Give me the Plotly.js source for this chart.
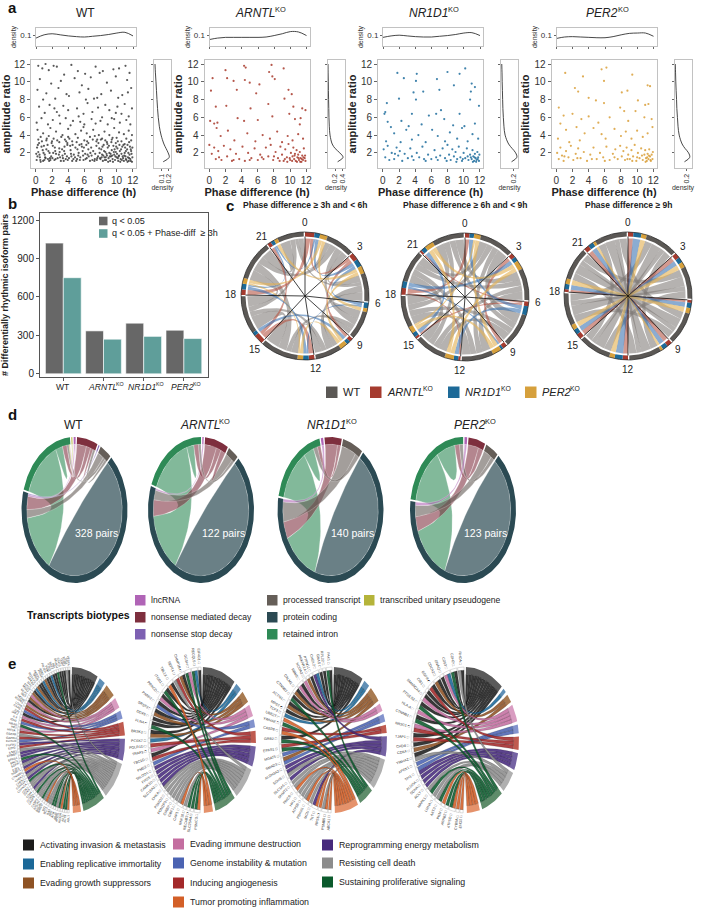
<!DOCTYPE html>
<html><head><meta charset="utf-8">
<script src="https://cdn.plot.ly/plotly-3.0.1.min.js"></script>
<style>body{margin:0;background:#fff}#chart{width:701px;height:910px}</style>
</head><body><div id="chart"></div>
<script>
// ================= DATA =================
const genoNames=['WT','ARNTL','NR1D1','PER2'];
const koSuffix='KO';
// panel a: phase difference (h), amplitude ratio pairs
const wtPts=[0.3,11.8,0.8,11.5,1.2,12,1.6,11.3,2.2,11.8,2.6,11.7,3.5,10.8,4.4,11.9,5.2,11.2,6.1,10.9,7.4,11.7,7.9,11,8.3,11.2,9.6,11.4,10.3,11.5,11.1,11.8,11.6,11,0.5,10.3,1.9,9.8,3.1,10.1,4.8,10.4,5.7,9.6,6.8,10.5,8.8,9.9,9.9,10.6,11.3,10.2,0.2,9.1,1.3,8.7,2.8,9.3,4.1,8.4,5.4,8.8,6.5,9.2,7.6,8.2,8.1,8.6,9.3,9,10.7,8.5,11.8,9.3,0.9,8,2.4,8.1,3.8,8.6,6.2,8,7.2,8.1,10.2,8.2,11.4,8.8,
0.4,7.2,1.1,6.5,1.7,7.4,2.3,7,2.9,6.2,3.4,7.3,4,6.8,4.6,5.6,5.1,7,5.9,6.4,6.4,7.6,7,6.6,7.7,7.1,8.2,6,8.6,7.4,9.1,6.8,9.7,5.8,10.1,7.2,10.6,6.4,11,7.5,11.5,6.1,11.9,7,0.1,5.4,0.7,5.9,1.5,5.2,2.1,5.7,3,5.3,3.7,5.9,4.3,5.1,5.5,5.5,6,5.2,6.9,5.8,7.4,5.3,8,5.6,8.9,5.2,9.4,5.9,10.4,5.4,11.2,5.7,11.7,5.2,2.6,6.6,5.3,6.1,9.9,6.5,
0.2,4.6,0.6,3.8,0.9,4.2,1.3,3.4,1.8,4.8,2.2,3.6,2.5,4.4,2.9,3.2,3.3,4,3.6,3.5,4,4.7,4.5,3.3,4.9,4.1,5.2,3.7,5.6,4.5,6,3.4,6.3,4.2,6.7,3.8,7.1,4.6,7.5,3.3,7.8,4,8.2,3.6,8.5,4.4,8.8,3.2,9.1,4,9.4,3.5,9.7,4.8,10,3.7,10.3,4.3,10.6,3.3,10.9,4.1,11.2,3.6,11.5,4.5,11.8,3.4,0.4,3.1,1.6,3.9,3.9,3.1,5.9,4.9,7.3,3.9,9.9,3.1,11,3,11.9,4,
0.1,1.2,0.3,2.1,0.5,1.5,0.7,2.7,0.9,1.1,1.1,1.8,1.3,2.4,1.5,1.3,1.7,2,1.9,1.6,2.1,2.8,2.3,1.2,2.5,1.9,2.7,1.4,2.9,2.5,3.1,1.1,3.3,1.7,3.5,2.2,3.7,1.3,3.9,2.9,0.2,1.6,0.6,1,1.2,1.4,1.8,1.2,2.4,2.2,3,1.5,3.6,1.9,
4.1,1.4,4.3,2.3,4.5,1.1,4.7,1.8,4.9,2.6,5.1,1.3,5.3,2,5.5,1.5,5.7,2.7,5.9,1.2,6.1,1.9,6.3,1.4,6.5,2.4,6.7,1.1,6.9,1.7,7.1,2.2,7.3,1.3,7.5,2.8,7.7,1.6,7.9,2,4.4,1.6,5,1.1,5.8,2.2,6.4,1.8,7,1.2,7.6,1.4,
8,1.3,8.1,2.4,8.2,1.8,8.3,1.1,8.4,2.9,8.5,1.5,8.6,2.1,8.7,1.2,8.8,1.7,8.9,2.6,9,1.4,9.1,2,9.2,1.1,9.3,1.6,9.4,2.3,9.5,1.3,9.6,2.8,9.7,1.8,9.8,1.2,9.9,2.1,10,1.5,10.1,2.5,10.2,1.1,10.3,1.7,10.4,2.2,10.5,1.3,10.6,1.9,10.7,2.7,10.8,1.4,10.9,1.1,11,2,11.1,1.6,11.2,1.2,11.3,2.4,11.4,1.5,11.5,1.1,11.6,1.8,11.7,1.3,11.8,2.2,11.9,1,11.95,1.5,11.75,1.1,11.55,1.4,11.35,1,11.15,1.3,10.95,1.7,10.65,1.2,10.45,1,10.15,1.4,9.85,1.6,9.55,1,9.25,1.9,8.95,1,8.65,1.5,8.35,1.7,
0.15,2.6,0.45,1.8,0.85,2.3,1.05,1.2,1.45,2.9,1.65,1.1,2.05,1.4,2.35,2.6,2.85,1.8,3.25,2.4,3.45,1.1,3.85,1.6,4.25,2.8,4.65,1.3,5.15,2.4,5.45,1.2,5.85,1.7,6.25,2.9,6.75,2,7.25,1.1,7.85,2.5,8.15,1.5,8.45,2.2,8.75,1.9,9.05,2.8,9.45,1.7,9.75,2.4,10.05,1.9,10.35,2.9,10.75,1.6,11.05,2.6,11.45,2,11.65,2.7,11.85,1.9,
0.05,1.9,0.25,2.9,0.55,1.2,0.75,3.3,0.95,2,1.15,1.5,1.35,3.6,1.55,2.2,1.75,1.4,1.95,3.1,2.15,2,2.45,1.3,2.65,3.4,2.95,2.1,3.15,3.8,3.35,1.4,3.55,2.7,3.75,3.3,3.95,1.2,4.15,3.6,4.35,1.9,4.55,2.9,4.85,1.5,5.05,3.2,5.25,1.7,5.65,3,5.95,2.6,6.15,1.3,6.35,3.3,6.55,1.6,6.85,2.6,7.05,3.5,7.35,1.9,7.55,1.2,7.75,3.1,7.95,1.4,8.05,3.5,8.25,2.7,8.55,1.2,8.85,3,9.15,1.6,9.35,3.2,9.65,2.1,9.95,2.7,10.25,1.6,10.55,2.4,10.85,2.9,11.15,2.2,11.35,2.9,11.55,3.2,11.75,2.4,11.95,2.6,10.15,3.3,9.5,3.7,8.6,3.4,7.6,3.5,6.5,3.1,5.4,2.9,4,3.8,2,3.3,1,2.8,0.3,3.5];
const arntlPts=[4.3,11.8,4.5,11.6,7.7,11.9,2,11.3,9.2,11.5,7.4,11.1,0.4,10.4,2.2,10.4,3,10.1,4.4,10.2,7.8,10.6,8.1,10.3,5,9.9,6.2,9.7,0.2,9,3.4,9.1,9.8,9.1,10.2,8.6,5.8,8.7,9.3,8.1,0.8,7.2,2.1,7.3,5.1,7,7.3,7.5,10.4,7.2,11.5,7,11.9,6.8,0.1,5.6,0.6,5.3,1,5.4,3.5,5.9,4.3,5.6,6,5.7,7.8,6.1,9.9,6.4,10.6,5.8,11.2,5.2,0.9,4.8,1.4,3.9,2.3,4.5,3.1,3.4,4.7,4.2,5.7,3.3,6.6,4,7.5,3.6,8.4,4.4,9,3.2,9.7,3.9,10.3,3.4,11,4.1,11.6,3.6,11.3,5.9,
0,2.9,0.3,1.9,0.6,2.6,0.8,1.3,1.1,2.2,1.5,1.2,1.8,2.8,2.2,1.6,2.6,2.4,3,1.2,3.3,1.9,3.7,1.3,4.1,2.7,4.4,1.1,4.8,2,5.2,1.4,5.6,2.5,6,1.2,6.3,1.8,6.7,1.3,7,2.6,7.3,1.6,7.6,2.9,7.9,1.2,8.2,2.1,8.5,1.4,8.8,2.7,9,1.8,9.2,1.1,9.4,2.4,9.6,1.5,9.8,3,10,1.2,10.1,2,10.3,1.6,10.4,2.6,10.5,1.3,10.6,1.9,10.7,1.1,10.8,2.3,10.9,1.5,11,1.8,11.1,1.2,11.2,2.1,11.3,1.4,11.4,1,11.5,1.7,11.6,1.2,11.7,2.5,11.8,1.4,11.9,1.1,11.85,1.7,11.65,1.5,11.45,1.3,11.25,1,11.05,1.4,10.85,1,10.55,1.7,10.25,1.1,9.95,1.4,9.65,1,9.35,1.3,8.7,1.1,8,1.6,1.2,1.5,2.8,1.1,5,1.2,6.5,1.5];
const nr1d1Pts=[1.8,11,2.6,10.4,4.2,10.9,4.1,10.1,6.7,10.3,8,11.1,9.5,10.9,10.2,11.5,11,9.8,11.4,9.4,10.9,8.9,3.8,8.8,4.1,8,5,8.9,2,8.1,7,9.1,8.8,9.6,10.8,8,0.5,7.6,0.3,6.6,0.2,6.4,3.6,6.4,5.7,6.2,6.6,6.4,7.2,6.8,9.5,6.4,11.9,7.3,0.6,5.5,1,4.9,2.3,5.6,3.2,5,4.8,5.2,6.1,4.6,7.6,5.8,8.7,5.1,10.1,5,11.4,5.3,0.4,3.3,1.4,4.2,2.2,3.2,2.9,4.6,3.6,3.5,4.4,4,5.3,3.2,6.8,3.9,7.7,3.3,8.3,4.3,9.2,3.6,9.8,4.8,10.5,3.3,11.1,4.1,11.8,3.6,
0.1,2.4,0.3,1.5,0.6,2.8,0.8,1.2,1.1,2,1.4,1.3,1.7,2.6,1.9,1.7,2.1,2.2,2.4,1.1,2.7,1.9,3.1,1.4,3.4,2.5,3.8,1.2,4.2,2,4.5,1.5,4.9,2.7,5.3,1.1,5.6,1.8,6,1.3,6.4,2.3,6.8,1.2,7.1,1.7,7.4,2.5,7.7,1.4,8,2.9,8.2,1.8,8.4,1.2,8.6,2.4,8.8,1.6,9,2.1,9.2,1.3,9.4,2.7,9.6,1.5,9.8,1.1,10,2,10.2,1.4,10.4,2.5,10.6,1.2,10.8,1.8,11,1.3,11.1,2.3,11.2,1.6,11.3,1.1,11.4,1.9,11.5,1.4,11.6,1.2,11.7,2.1,11.8,1.5,11.9,1.1,11.95,1.8,11.75,1.3,11.55,1,11.35,1.5,11.15,1,10.9,1.5,10.5,1.6,9.9,1.3,9.1,1,7.9,1.1,6.6,1.5,5.1,1.3,3.6,1.6,1.5,1.9];
const per2Pts=[1.1,11,5.6,11.4,6.2,11.6,5.9,10.1,3.3,10.6,9.4,10.8,2.3,9.3,2.7,8.9,4,8.2,8.1,8.8,8.8,9,11.3,9.6,11.6,9.5,0.3,7.1,4.9,7.9,5.9,7.6,7.9,7.1,10.1,7.9,11,7.4,11.4,7.5,0.9,6.2,2,6.4,3.1,5.8,4,6.1,5.2,5.4,6.6,6,8.4,6.7,8.9,5.6,9.8,6.7,10.9,6,11.8,5.8,0.5,5.3,1.2,4.6,2.5,4.9,3.5,4.2,4.6,4.8,5.6,4.1,6.1,3.6,7.2,4.7,8,3.9,8.6,4.4,9.3,3.6,10,4.5,10.7,3.8,11.3,4.2,11.9,4.9,0.2,3.6,1.6,3.2,2.9,3.4,
0.1,2,0.3,1.3,0.5,2.6,0.7,1.7,0.9,1.1,1.2,2.2,1.5,1.5,1.8,2.8,2.1,1.2,2.4,1.9,2.7,2.5,3,1.4,3.4,2.1,3.8,1.1,4.2,1.8,4.6,2.6,5,1.3,5.4,2,5.8,1.5,6.2,2.7,6.6,1.2,7,1.9,7.3,2.4,7.6,1.3,7.9,2.8,8.1,1.6,8.3,2.2,8.5,1.2,8.7,2.6,8.9,1.8,9.1,1.3,9.3,2.3,9.5,1.6,9.7,2.9,9.9,1.1,10.1,2,10.3,1.4,10.5,2.5,10.7,1.2,10.9,1.8,11,2.3,11.1,1.4,11.2,1.1,11.3,1.9,11.4,1.3,11.5,2.4,11.6,1.6,11.7,1.1,11.8,1.8,11.9,1.3,11.95,2.1,11.65,1.2,11.45,1.7,11.25,1.5,11.05,1,10.6,1.7,10,1.5,9.4,1.1,8.8,1.3,7.2,1.5,6,1.1,4.4,1.3,2.6,1.4,1,1.6];
// marginal densities
const densX=[0,1,2,3,4,5,6,7,8,9,10,11,12];
const wtTopDens=[0.092,0.101,0.104,0.101,0.098,0.096,0.095,0.097,0.099,0.102,0.106,0.108,0.098];
const arntlTopDens=[0.088,0.092,0.094,0.094,0.094,0.094,0.094,0.095,0.099,0.104,0.11,0.109,0.099];
const nr1d1TopDens=[0.094,0.098,0.1,0.098,0.096,0.095,0.095,0.097,0.099,0.102,0.106,0.107,0.099];
const per2TopDens=[0.091,0.095,0.096,0.095,0.094,0.093,0.093,0.096,0.101,0.105,0.106,0.106,0.097];
const densY=[1,1.5,2,2.5,3,4,5,6,7,8,9,10,11,12];
const wtSideDens=[0.12,0.205,0.19,0.16,0.13,0.09,0.065,0.05,0.04,0.032,0.025,0.018,0.01,0.004];
const arntlSideDens=[0.27,0.42,0.33,0.2,0.12,0.06,0.04,0.03,0.025,0.02,0.015,0.012,0.008,0.004];
const nr1d1SideDens=[0.17,0.26,0.24,0.18,0.12,0.06,0.04,0.03,0.022,0.018,0.014,0.01,0.007,0.003];
const per2SideDens=[0.16,0.25,0.23,0.17,0.12,0.07,0.05,0.04,0.03,0.025,0.018,0.012,0.008,0.003];
const sideTicks=[[0.1,0.2],[0.2,0.4],[0.2],[0.2]];
// panel b
const barAll=[1020,335,395,340];
const barPhase=[750,270,292,275];
const barLegend=['q < 0.05','q < 0.05 + Phase-diff  ≥ 3h'];
const barTicks=[0,300,600,900,1200];
// panel c: phase sectors and links [from, to, genotype, width]
const hours=['0','3','6','9','12','15','18','21'];
const cTitles=['Phase difference ≥ 3h and < 6h','Phase difference ≥ 6h and < 9h','Phase difference ≥ 9h'];
const cLinks1=[0,1,0,4,0,1,1,2,0,1,2,2,0,2,0,4,0,2,3,2,1,2,0,5,1,2,2,2,1,3,0,4,1,3,1,2,1,3,3,2,2,3,0,3,2,4,0,3,2,4,2,1,3,4,0,4,3,4,3,2,3,5,0,3,3,5,2,2,4,5,0,8,4,5,1,3,4,6,0,5,4,6,2,2,4,6,3,1,5,6,0,6,5,7,0,3,5,7,1,2,6,7,0,6,6,0,0,4,6,0,1,3,6,0,3,2,6,7,2,1,7,0,0,3,7,1,0,2,7,1,3,2,7,0,2,1];
const cLinks2=[0,2,0,5,0,2,2,2,0,3,0,3,0,3,3,2,1,3,0,4,1,3,1,2,1,4,0,3,1,4,3,2,2,4,0,4,2,4,2,2,2,5,0,3,2,5,1,1,3,5,0,4,3,5,3,2,3,6,0,3,3,6,2,1,4,6,0,4,4,6,1,1,4,7,0,3,4,7,3,2,5,7,0,4,5,7,2,2,5,0,0,3,5,0,3,1,6,0,0,4,6,0,1,2,6,1,0,3,6,1,2,2,7,1,0,4,7,1,3,2,7,2,0,3,7,2,1,1];
const cLinks3=[0,3,0,3,0,4,0,4,0,4,2,3,0,4,3,2,1,4,0,3,1,5,0,4,1,5,1,2,1,5,2,2,2,5,0,3,2,6,0,4,2,6,3,2,2,6,1,1,3,6,0,3,3,7,0,4,3,7,2,2,3,7,3,1,4,7,0,3,4,0,0,2,4,0,1,2,5,0,0,3,5,1,0,2,5,1,3,2,6,1,0,3,6,2,0,2,6,2,2,2,7,2,0,3,7,3,0,2,7,3,1,2];
// panel d: biotypes and pair links [from, to, pairs]
const biotypes=['transcribed unitary pseudogene','lncRNA','nonsense mediated decay','nonsense stop decay','processed transcript','protein coding','retained intron'];
const wtBio=[5,5,158,6,5,95,4,5,14,2,5,22,1,5,3,3,5,2,6,6,8,2,6,10,4,6,5,0,6,2,1,6,1,2,2,3,4,2,5];
const arntlBio=[5,5,58,6,5,36,2,5,10,4,5,6,1,5,1,6,6,3,2,6,4,2,2,2,4,6,2];
const nr1d1Bio=[5,5,64,6,5,36,2,5,12,4,5,14,6,6,5,4,6,4,2,6,3,1,5,2];
const per2Bio=[5,5,56,6,5,34,2,5,9,4,5,7,6,6,8,2,6,4,4,6,3,1,5,2];
const pairCounts=[328,122,140,123];
// panel e: hallmarks and genes
const hallmarks=['Activating invasion & metastasis','Enabling replicative immortality','Evading growth suppressors','Evading immune destruction','Genome instability & mutation','Inducing angiogenesis','Tumor promoting inflammation','Reprogramming energy metabolism','Resisting cell death','Sustaining proliferative signaling'];
const hallmarkOrder=[0,1,2,3,4,5,7,8,9,6];
const wtGenes=['ABL1','ACTB','AKT1','ALDOA','APEX1','ARAF','ATM','ATR','BAX','BCL2','BID','BIRC5','BRCA1','BRCA2','CASP3','CASP8','CCND1','CD44','CDK4','CDK6','CDKN1A','CDKN2A','CHEK1','CHEK2','CTNNB1','DNMT1','E2F1','EGFR','ENO1','EPAS1','ERBB2','ESR1','EZH2','FGFR1','FOXO3','GAPDH','GSK3B','HIF1A','HK2','HRAS','IDH1','IL6','JAK2','JUN','KRAS','LDHA','MAPK1','MDM2','MET','MLH1','MSH2','MTOR','MYC','NFKB1','NOTCH1','NRAS','PARP1','PCNA','PDK1','PIK3CA','PKM','PTEN','RAF1','RB1','SMAD4','STAT3','TERT','TGFB1','TP53','VEGFA'];
const wtHm=[6,9,9,6,9,8,9,9,8,8,6,8,9,8,8,9,8,7,8,8,9,7,8,7,6,7,8,7,9,7,7,8,5,7,4,5,8,5,3,9,4,5,3,0,4,5,2,3,0,2,3,2,0,1,2,0,0,1,2,0,0,1,0,0,9,0,0,0,8,0];
const arntlGenes=['PSMC3','SLC25A4','NECAB3','RNF10','CAP1','GBF1','CIRBP','POMZP3','PSMD2','CHKA','SLC16A3','CAMK1D','FPGS','TALDO1','PMS2','TBC1D','TRAF3','POLR1D','PCSK7','BRSK2','FLNA','DDX5','SRSF3','PARP2','PRKCD','ITGB1','TBL1X','SEPT4','CHMP1B','GCSH','RECQL5','EIF4G1'];
const arntlHm=[[9,6],[9],[9],[8],[6,8],[8],[8],[8],[8],[8,7],[7],[7],[7],[7],[4],[5,0],[3],[5],[1],[0,2],[0,9],[0],[2,0],[4,0],[3,0],[0,9],[0,6],[8,5],[0,2],[9,3],[9,1],[0]];
const nr1d1Genes=['ABCA1','PSMB5','RPS6','TKT','MCU','PDHA1','ATP5B','HK1','PAICS','SHMT2','SLC1A5','SDHB','ALDH3A2','SMAD3','MGAT5','EPAS1','GRB2','CASP8','YWHAE','UBE2T','TCF3','MPST','ACTN4','CTNNB1','CALM1','RBM5','NCOA3','PRKAR1A','PTPN11','CHEK2','GNAS','RPL22','PAK1'];
const nr1d1Hm=[[6],[6,8],[6],[6,7],[8],[8,6],[8],[8],[6,8],[8],[7],[7,8],[7],[4,2],[4],[5,9],[9,0],[5,6],[9],[6],[1],[0],[0,2],[0,9],[0,2],[3,0],[3],[2],[0],[7,1],[0],[0],[0,9]];
const per2Genes=['ENO2','CYB5A','ATP5O','ARRB2','PKM','AKT3','LMNA','MAPK1','ACLY','SDHA','ALDOA','TPI1','APEX1','YWHAZ','CDK4','CHD8','TJAP1','NR3C1','CTNNB1','HLA-A','PTGES3','SMARCA4','CIB1','EGFR','CDC42','GNAQ','CD63','CDH2','RHOA'];
const per2Hm=[[6],[6],[6,9],[9],[6],[9,8],[8],[8,9],[7],[7],[7],[7,4],[4],[8,0],[2],[0],[0,5],[5,3],[0,9],[3],[9,0],[0,3],[0],[5,0],[0,2],[0],[3,1],[0,9],[0,8]];

// ================= STYLE / HELPERS =================
const W=701,H=910;
const FONT='Liberation Sans, Arial, Helvetica, sans-serif';
const traces=[];
const layout={width:W,height:H,margin:{l:0,r:0,t:0,b:0},paper_bgcolor:'#fff',plot_bgcolor:'rgba(0,0,0,0)',showlegend:false,hovermode:false,
  font:{family:FONT,color:'#222',size:10},annotations:[],shapes:[],barmode:'group',bargap:0.11,bargroupgap:0};
const fx=p=>p/W, fy=p=>1-p/H;
const axName=i=>i===1?'':String(i);
const esc=s=>s.replace(/&/g,'&amp;').replace(/</g,'&lt;');
function rgba(hex,a){const n=parseInt(hex.slice(1),16);return 'rgba('+(n>>16)+','+((n>>8)&255)+','+(n&255)+','+a+')';}
function addAx(i,x0,x1,y0,y1,xo,yo){
  layout['xaxis'+axName(i)]=Object.assign({domain:[fx(x0),fx(x1)],anchor:'y'+axName(i),showgrid:false,zeroline:false,fixedrange:true},xo);
  layout['yaxis'+axName(i)]=Object.assign({domain:[fy(y1),fy(y0)],anchor:'x'+axName(i),showgrid:false,zeroline:false,fixedrange:true},yo);
}
function annP(x,y,text,o){layout.annotations.push(Object.assign({xref:'paper',yref:'paper',x:fx(x),y:fy(y),text:text,showarrow:false,xanchor:'center',yanchor:'middle',font:{size:10,color:'#222'}},o||{}));}
const capW={A:.667,R:.722,N:.722,T:.611,L:.556,D:.722,'1':.556,P:.667,E:.667,'2':.556,W:.944};
function genoAnn(k,x,y,size,align){
  const name=genoNames[k];
  if(k===0){annP(x,y,name,{xanchor:align,font:{size:size,color:'#222'}});return;}
  const w1=[...name].reduce((s,c)=>s+(capW[c]||0.65),0)*size;
  const ks=size*0.62, w2=(0.667+0.778)*ks;
  const left=align==='center'?x-(w1+w2)/2:x;
  annP(left,y,name,{xanchor:'left',font:{size:size,color:'#222',style:'italic'}});
  annP(left+w1+0.2,y-size*0.33,koSuffix,{xanchor:'left',font:{size:ks,color:'#222'}});
}
function rectP(x0,y0,x1,y1,color){layout.shapes.push({type:'rect',xref:'paper',yref:'paper',x0:fx(x0),x1:fx(x1),y0:fy(y1),y1:fy(y0),fillcolor:color,line:{width:0}});}
function P(a,r){const t=a*Math.PI/180;return [r*Math.sin(t),r*Math.cos(t)];}
function arc(a1,a2,r){const n=Math.max(2,Math.ceil(Math.abs(a2-a1)/1.5)+1);const o=[];for(let i=0;i<n;i++)o.push(P(a1+(a2-a1)*i/(n-1),r));return o;}
function bez(p0,p2,n){const o=[];for(let i=1;i<n;i++){const t=i/n,u=1-t;o.push([u*u*p0[0]+t*t*p2[0],u*u*p0[1]+t*t*p2[1]]);}return o;}
function ribbon(a1,a2,ra,b1,b2,rb){
  let pts=arc(a1,a2,ra);
  if(Math.abs(a2-b1)>1e-6) pts=pts.concat(bez(P(a2,ra),P(b1,rb),30));
  pts=pts.concat(arc(b1,b2,rb)).concat(bez(P(b2,rb),P(a1,ra),30));
  pts.push(P(a1,ra));return pts;
}
function band(a1,a2,r1,r2){const o=arc(a1,a2,r2).concat(arc(a2,a1,r1));o.push(o[0]);return o;}
function poly(pts,ax,fill,lc,lw){traces.push({type:'scatter',mode:'lines',x:pts.map(p=>p[0]),y:pts.map(p=>p[1]),xaxis:'x'+axName(ax),yaxis:'y'+axName(ax),fill:'toself',fillcolor:fill,line:{color:lc||'rgba(0,0,0,0)',width:lw||0},hoverinfo:'skip'});}
function lines(pts,ax,lc,lw){traces.push({type:'scatter',mode:'lines',x:pts.map(p=>p?p[0]:null),y:pts.map(p=>p?p[1]:null),xaxis:'x'+axName(ax),yaxis:'y'+axName(ax),line:{color:lc,width:lw},connectgaps:false,hoverinfo:'skip'});}
function circleAx(i,cx,cy,rx,ry,m){
  const x0=Math.max(0,cx-rx*m),x1=Math.min(W,cx+rx*m),y0=Math.max(0,cy-ry*m),y1=Math.min(H,cy+ry*m);
  addAx(i,x0,x1,y0,y1,{visible:false,range:[(x0-cx)/rx,(x1-cx)/rx]},{visible:false,range:[(cy-y1)/ry,(cy-y0)/ry]});
}
const split=(pts)=>({x:pts.filter((_,i)=>i%2===0),y:pts.filter((_,i)=>i%2===1)});

[['a',6,8],['b',6,204],['c',224,206],['d',6,415],['e',6,663]].forEach(l=>annP(l[1],l[2],'<b>'+l[0]+'</b>',{font:{size:15,color:'#111'},xanchor:'left'}));

// ================= PANEL A =================
const aPts=[wtPts,arntlPts,nr1d1Pts,per2Pts];
const aTop=[wtTopDens,arntlTopDens,nr1d1TopDens,per2TopDens];
const aSide=[wtSideDens,arntlSideDens,nr1d1SideDens,per2SideDens];
const aColors=['#3c3c3c','#a8392b','#1e6d9d','#d99f38'];
const sideMax=[0.23,0.46,0.28,0.28];
const boxAx={showline:true,mirror:true,linecolor:'#c2c2c2',linewidth:1,ticks:'outside',ticklen:3,tickcolor:'#666',tickfont:{size:10,color:'#333'}};
const ev=[0,2,4,6,8,10,12], ev2=[2,4,6,8,10,12];
for(let k=0;k<4;k++){
  const off=173.5*k, iS=1+3*k, iT=2+3*k, iR=3+3*k;
  addAx(iS,31+off,136+off,60,168,Object.assign({},boxAx,{range:[-0.6,12.4],tickvals:ev,title:{text:'<b>Phase difference (h)</b>',font:{size:11,color:'#222'},standoff:1}}),
    Object.assign({},boxAx,{range:[0.3,12.45],tickvals:ev2,title:{text:'<b>amplitude ratio</b>',font:{size:11,color:'#222'},standoff:2}}));
  const s=split(aPts[k]);
  traces.push({type:'scatter',mode:'markers',x:s.x,y:s.y,xaxis:'x'+axName(iS),yaxis:'y'+axName(iS),marker:{size:2.2,color:aColors[k],opacity:0.85},hoverinfo:'skip'});
  addAx(iT,36+off,136+off,28,46,Object.assign({},boxAx,{range:[0,12.37],tickvals:ev,showticklabels:false,ticklen:2}),
    Object.assign({},boxAx,{range:[0.07,0.12],tickvals:[0.1],ticktext:['0.1'],ticklen:2,tickfont:{size:8,color:'#333'},title:{text:'density',font:{size:7,color:'#333'},standoff:2}}));
  traces.push({type:'scatter',mode:'lines',x:densX,y:aTop[k],xaxis:'x'+axName(iT),yaxis:'y'+axName(iT),line:{color:'#333',width:0.9,shape:'spline'},hoverinfo:'skip'});
  addAx(iR,154+off,171+off,60,168,Object.assign({},boxAx,{range:[-0.01,sideMax[k]],tickvals:sideTicks[k],tickangle:-90,ticklen:2,tickfont:{size:7,color:'#333'},title:{text:'density',font:{size:7,color:'#333'},standoff:2}}),
    Object.assign({},boxAx,{range:[0.3,12.45],tickvals:ev2,showticklabels:false,ticklen:2}));
  traces.push({type:'scatter',mode:'lines',x:aSide[k],y:densY,xaxis:'x'+axName(iR),yaxis:'y'+axName(iR),line:{color:'#333',width:0.9,shape:'spline'},hoverinfo:'skip'});
  genoAnn(k,85+off,13,12,'center');
}

// ================= PANEL B =================
const bxR=[-0.58,3.6], bx0=40, bx1=208;
addAx(13,bx0,bx1,213,377,{range:bxR,tickvals:[0,1,2,3],showticklabels:false,ticks:'outside',ticklen:3,tickcolor:'#555',showline:true,mirror:true,linecolor:'#555'},
  {range:[-25,1255],tickvals:barTicks,ticks:'outside',ticklen:3,tickcolor:'#555',showline:true,mirror:true,linecolor:'#555',tickfont:{size:10,color:'#222'},title:{text:'<b># Differentially rhythmic isoform pairs</b>',font:{size:9,color:'#222'},standoff:3}});
[0,1,2,3].forEach(k=>genoAnn(k,bx0+(k-bxR[0])/(bxR[1]-bxR[0])*(bx1-bx0),387,8.6,'center'));
const barColors=['#676767','#5f9e9a'];
traces.push({type:'bar',x:[0,1,2,3],y:barAll,xaxis:'x13',yaxis:'y13',marker:{color:barColors[0],line:{color:'#fff',width:0.6}},hoverinfo:'skip'});
traces.push({type:'bar',x:[0,1,2,3],y:barPhase,xaxis:'x13',yaxis:'y13',marker:{color:barColors[1],line:{color:'#fff',width:0.6}},hoverinfo:'skip'});
barLegend.forEach((t,i)=>{const y=221+i*12.5;rectP(99,y-4.3,107.5,y+4.3,barColors[i]);annP(110,y,esc(t),{xanchor:'left',font:{size:9,color:'#222'}});});

// ================= PANEL C =================
const cRing=['#5b5855','#a53b2f','#1d6a98','#d6a03c'];
const cChord=['rgba(128,123,119,0.58)','rgba(180,80,62,0.58)','rgba(55,112,175,0.58)','rgba(228,178,84,0.62)'];
const gRank=[3,0,1,2];
const cCenters=[[305,296],[465,297],[628,296]];
[cLinks1,cLinks2,cLinks3].forEach((flat,j)=>{
  const ax=14+j, nS=hours.length;
  circleAx(ax,cCenters[j][0],cCenters[j][1],64,64,1.35);
  annP(cCenters[j][0],205,'<b>'+esc(cTitles[j])+'</b>',{font:{size:8.5,color:'#222'}});
  const links=[];for(let i=0;i<flat.length;i+=4)links.push({f:flat[i],t:flat[i+1],g:flat[i+2],w:flat[i+3]});
  const ends=Array.from({length:nS},()=>[]);
  links.forEach((l,li)=>{ends[l.f].push({l:li,g:l.g,w:l.w,o:l.t,side:0});ends[l.t].push({l:li,g:l.g,w:l.w,o:l.f,side:1});});
  const key=(s,o)=>{const rel=(o-s+nS)%nS;return rel>nS/2?nS-rel:nS+2-rel;};
  const tot=ends.reduce((a,e)=>a+e.reduce((s,x)=>s+x.w,0),0);
  const gap=1.2, unit=(360-gap*nS)/tot;
  let ang=0;const secStart=[];
  for(let s=0;s<nS;s++){
    secStart[s]=ang;
    ends[s].sort((a,b)=>(gRank[a.g]-gRank[b.g])||(key(s,a.o)-key(s,b.o)));
    ends[s].forEach(e=>{e.a1=ang;ang+=e.w*unit;e.a2=ang;links[e.l]['e'+e.side]=e;});
    ang+=gap;
  }
  [0,1,2,3].forEach(g=>links.filter(l=>l.g===g).forEach(l=>poly(ribbon(l.e0.a1,l.e0.a2,0.9,l.e1.a1,l.e1.a2,0.9),ax,cChord[g])));
  for(let s=0;s<nS;s++){
    let cur=null;
    ends[s].forEach(e=>{if(cur&&cur.g===e.g){cur.a2=e.a2;}else{if(cur)poly(band(cur.a1,cur.a2,0.93,1.0),ax,cRing[cur.g]);cur={g:e.g,a1:e.a1,a2:e.a2};}});
    if(cur)poly(band(cur.a1,cur.a2,0.93,1.0),ax,cRing[cur.g]);
  }
  lines(arc(0,360,1.0),ax,'#222',0.7);
  const rl=[];secStart.forEach(a=>{rl.push([0,0]);rl.push(P(a,0.93));rl.push(null);});
  lines(rl,ax,'#111',0.8);
  secStart.forEach((a,s)=>{const p=P(a,1.15);layout.annotations.push({xref:'x'+ax,yref:'y'+ax,x:p[0],y:p[1],text:hours[s],showarrow:false,font:{size:10,color:'#222'}});});
});
const cLegX=[326,370,448,525];
[0,1,2,3].forEach(g=>{rectP(cLegX[g],386.5,cLegX[g]+11.5,398,cRing[g]);genoAnn(g,cLegX[g]+14.5,392,11,'left');});

// ================= PANEL D =================
const bioColors=['#b5b43a','#b064b6','#7e2f3e','#7d60b2','#655e58','#2b4a53','#2e8a56'];
const bioChordA=[0.6,0.6,0.58,0.6,0.6,0.7,0.6];
const dCx=[74.5,201,330.5,463], pcStart=[44,45,38,42];
const dTitleX=[73,203,330,473];
[wtBio,arntlBio,nr1d1Bio,per2Bio].forEach((flat,k)=>{
  const ax=17+k, nS=biotypes.length;
  circleAx(ax,dCx[k],510,53,73,1.1);
  genoAnn(k,dTitleX[k],425,12,'center');
  const links=[];for(let i=0;i<flat.length;i+=3)links.push({f:flat[i],t:flat[i+1],v:flat[i+2]});
  const ends=Array.from({length:nS},()=>[]);
  links.forEach((l,li)=>{ends[l.f].push({l:li,v:l.v,side:0});ends[l.t].push({l:li,v:l.v,side:1});});
  const sizes=ends.map(e=>e.reduce((s,x)=>s+x.v,0));
  const tot=sizes.reduce((a,b)=>a+b,0), nz=sizes.filter(s=>s>0).length, gap=1.5;
  const unit=(360-gap*nz)/tot;
  let before=0;for(let s=0;s<5;s++)if(sizes[s]>0)before+=sizes[s]*unit+gap;
  let ang=pcStart[k]-before;
  for(let s=0;s<nS;s++){
    if(!sizes[s])continue;
    const a0=ang;
    ends[s].forEach(e=>{e.a1=ang;ang+=e.v*unit;e.a2=ang;links[e.l]['e'+e.side]=e;});
    poly(band(a0,ang,0.9,1.0),ax,bioColors[s]);
    ang+=gap;
  }
  links.forEach(l=>poly(ribbon(l.e0.a1,l.e0.a2,0.9,l.e1.a1,l.e1.a2,0.9),ax,rgba(bioColors[l.f],bioChordA[l.f]),'rgba(255,255,255,0.6)',0.4));
  layout.annotations.push({xref:'x'+ax,yref:'y'+ax,x:0.42,y:-0.31,text:pairCounts[k]+' pairs',showarrow:false,font:{size:10.5,color:'#fff'}});
});
annP(78,615,'<b>Transcripts biotypes</b>',{font:{size:10.5,color:'#111'}});
const bioLeg=[[1,135,600],[2,135,617],[3,135,634],[4,267,600],[5,267,617],[6,267,634],[0,364,600]];
bioLeg.forEach(b=>{rectP(b[1],b[2]-5,b[1]+10.5,b[2]+5.5,bioColors[b[0]]);annP(b[1]+13.5,b[2],biotypes[b[0]],{xanchor:'left',font:{size:8.6,color:'#222'}});});

// ================= PANEL E =================
const hmColors=['#1c1c1c','#1b6898','#8e5224','#c46ea0','#4b63b2','#a3292a','#d35f27','#46297c','#8c8c8c','#0b5a2c'];
const hmBand=['#5a5a5a','#5f8fb6','#a87a50','#d99cc1','#8393cd','#bf5b50','#e5926b','#7563a3','#b0b0b0','#5e8c6a'];
const eCx=[71,202,333,465], eCy=740, eRx=54, eRy=73;
[[wtGenes,wtHm],[arntlGenes,arntlHm],[nr1d1Genes,nr1d1Hm],[per2Genes,per2Hm]].forEach((gd,k)=>{
  const genes=gd[0], hm=gd[1], ax=21+k;
  circleAx(ax,eCx[k],eCy,eRx,eRy,1.7);
  const links=[];genes.forEach((g,gi)=>{(Array.isArray(hm[gi])?hm[gi]:[hm[gi]]).forEach(h=>links.push({gi:gi,h:h}));});
  const hCount=Array(10).fill(0);links.forEach(l=>hCount[l.h]++);
  const present=hallmarkOrder.filter(h=>hCount[h]>0);
  const hGap=2.6, hUnit=(177-hGap*(present.length-1))/links.length;
  const hStart={},hEnd={};let ang=1;
  present.forEach(h=>{hStart[h]=ang;ang+=hCount[h]*hUnit;hEnd[h]=ang;ang+=hGap;});
  const gGap=k===0?0.35:0.9;
  const gUnit=(177-gGap*(genes.length-1))/links.length;
  const gStart=[],gEnd=[];ang=182;
  genes.forEach((_,gi)=>{const c=links.filter(l=>l.gi===gi).length;gStart[gi]=ang;ang+=c*gUnit;gEnd[gi]=ang;ang+=gGap;});
  genes.forEach((_,gi)=>{let a=gStart[gi];links.filter(l=>l.gi===gi).sort((x,y)=>hStart[y.h]-hStart[x.h]).forEach(l=>{l.g1=a;a+=gUnit;l.g2=a;});});
  present.forEach(h=>{let a=hStart[h];links.filter(l=>l.h===h).sort((x,y)=>y.gi-x.gi).forEach(l=>{l.h1=a;a+=hUnit;l.h2=a;});});
  present.forEach(h=>poly(band(hStart[h],hEnd[h],0.9,1.0),ax,hmBand[h]));
  genes.forEach((_,gi)=>poly(band(gStart[gi],gEnd[gi],0.955,1.0),ax,'#ffffff','#8a8a8a',0.3));
  links.forEach(l=>poly(ribbon(l.h1,l.h2,0.9,l.g1,l.g2,0.955),ax,rgba(hmColors[l.h],0.88),'rgba(0,0,0,0.55)',0.3));
  const fs=k===0?3:3.6;
  genes.forEach((g,gi)=>{
    const th=(gStart[gi]+gEnd[gi])/2*Math.PI/180, rs=1.03;
    const text=k===0?g:g+' □';
    let dx=eRx*Math.sin(th), dy=-eRy*Math.cos(th);const n=Math.hypot(dx,dy);dx/=n;dy/=n;
    const L=text.length*fs*0.58;
    const sx=eRx*rs*Math.sin(th)+dx*L/2, sy=-eRy*rs*Math.cos(th)+dy*L/2;
    layout.annotations.push({xref:'x'+ax,yref:'y'+ax,x:sx/eRx,y:-sy/eRy,text:text,showarrow:false,textangle:Math.atan2(-dy,-dx)*180/Math.PI,font:{size:fs,color:'#333'},xanchor:'center',yanchor:'middle'});
  });
});
const hmLeg=[[0,23,845],[1,23,864],[2,23,883],[3,173,844],[4,173,863],[5,173,883],[6,173,902],[7,322,845],[8,322,863],[9,322,882]];
hmLeg.forEach(b=>{rectP(b[1],b[2]-5.5,b[1]+11,b[2]+5.5,hmColors[b[0]]);annP(b[1]+14.5,b[2],esc(hallmarks[b[0]]),{xanchor:'left',font:{size:8.8,color:'#222'}});});

Plotly.newPlot('chart',traces,layout,{staticPlot:true,displayModeBar:false});
</script></body></html>
